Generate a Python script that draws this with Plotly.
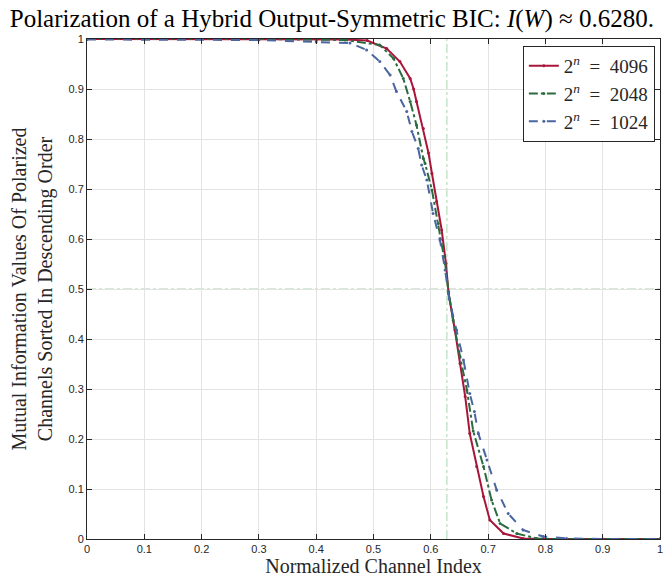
import plotly.graph_objects as go

# Sorted mutual information of polarized channels
I_W = 0.6280

x_4096 = [0.0, 0.30, 0.45, 0.489, 0.523, 0.546, 0.564, 0.570, 0.575, 0.587, 0.596,
          0.602, 0.610, 0.619, 0.6265, 0.631, 0.642, 0.651, 0.660, 0.668, 0.680,
          0.692, 0.703, 0.727, 0.761, 0.80, 1.0]
y_4096 = [1.0, 1.0, 0.999, 0.997, 0.981, 0.955, 0.921, 0.900, 0.875, 0.821, 0.772,
          0.731, 0.675, 0.618, 0.551, 0.491, 0.418, 0.351, 0.285, 0.211, 0.145,
          0.085, 0.038, 0.011, 0.001, 0.0, 0.0]

x_2048 = [0.0, 0.30, 0.45, 0.511, 0.535, 0.552, 0.564, 0.575, 0.587, 0.590, 0.602,
          0.613, 0.625, 0.631, 0.639, 0.651, 0.663, 0.674, 0.692, 0.706, 0.721,
          0.750, 0.785, 0.82, 1.0]
y_2048 = [1.0, 1.0, 0.998, 0.988, 0.961, 0.921, 0.875, 0.828, 0.761, 0.751, 0.698,
          0.631, 0.551, 0.495, 0.438, 0.365, 0.298, 0.216, 0.145, 0.078, 0.031,
          0.011, 0.001, 0.0, 0.0]

x_1024 = [0.0, 0.30, 0.40, 0.459, 0.488, 0.511, 0.529, 0.540, 0.558, 0.567, 0.578,
          0.584, 0.593, 0.604, 0.616, 0.625, 0.632, 0.645, 0.657, 0.668, 0.676,
          0.683, 0.698, 0.715, 0.735, 0.761, 0.796, 0.837, 0.90, 1.0]
y_1024 = [0.999, 0.998, 0.994, 0.992, 0.978, 0.955, 0.928, 0.895, 0.855, 0.815, 0.781,
          0.748, 0.718, 0.651, 0.598, 0.538, 0.480, 0.418, 0.358, 0.291, 0.255,
          0.211, 0.158, 0.098, 0.051, 0.018, 0.005, 0.001, 0.0, 0.0]

tick_vals = [0, 0.1, 0.2, 0.3, 0.4, 0.5, 0.6, 0.7, 0.8, 0.9, 1]
tick_text = ["0", "0.1", "0.2", "0.3", "0.4", "0.5", "0.6", "0.7", "0.8", "0.9", "1"]

SERIF = "Liberation Serif"
SANS = "Liberation Sans"

fig = go.Figure()

series = [
    (x_4096, y_4096, "2<sup><i>n</i></sup>&nbsp; = &nbsp;4096", "#a8163a", "solid"),
    (x_2048, y_2048, "2<sup><i>n</i></sup>&nbsp; = &nbsp;2048", "#2b6b40", "dashdot"),
    (x_1024, y_1024, "2<sup><i>n</i></sup>&nbsp; = &nbsp;1024", "#4a66a0", "dash"),
]
for xs, ys, name, color, dash in series:
    fig.add_trace(go.Scatter(
        x=xs, y=ys, mode="lines+markers", name=name,
        line=dict(color=color, width=2, dash=dash),
        marker=dict(color=color, size=3),
    ))

# reference lines at I(W) and 0.5
ref = dict(color="#c6e4c9", width=1.5, dash="dashdot")
fig.add_vline(x=I_W, line=ref, layer="below")
fig.add_hline(y=0.5, line=ref, layer="below")

axis = dict(
    range=[0, 1], tickvals=tick_vals, ticktext=tick_text, automargin=False,
    ticklabeloverflow="allow",
    showgrid=True, gridcolor="#e3e3e3", gridwidth=1,
    zeroline=False, showline=True, linecolor="#262626", linewidth=1,
    mirror="ticks", ticks="inside", ticklen=5, tickcolor="#262626",
    tickfont=dict(family=SANS, size=11, color="#262626"),
)

fig.update_xaxes(**axis,
                 title=dict(text="Normalized Channel Index", standoff=2,
                            font=dict(family=SERIF, size=20, color="#262626")))
fig.update_yaxes(**axis,
                 title=dict(text="Mutual Information Values Of Polarized<br>Channels Sorted In Descending Order",
                            standoff=10, font=dict(family=SERIF, size=20, color="#262626")))

fig.update_layout(
    width=665, height=584,
    margin=dict(l=87, r=5, t=39, b=45),
    paper_bgcolor="white", plot_bgcolor="white",
    title=dict(text="Polarization of a Hybrid Output-Symmetric BIC: <i>I</i>(<i>W</i>) ≈ 0.6280.",
               x=0.499, xref="container", xanchor="center", y=0.969, yref="container", yanchor="middle",
               font=dict(family=SERIF, size=25, color="black")),
    legend=dict(x=0.991, y=0.986, xanchor="right", yanchor="top",
                bgcolor="white", bordercolor="#262626", borderwidth=1,
                font=dict(family=SERIF, size=19, color="#262626"),
                itemwidth=30, tracegroupgap=0),
    showlegend=True,
)

# drop the default page margin so the figure fills the window exactly
fig.write_html("out.html", config={"displayModeBar": False},
               post_script="document.body.style.margin='0';")
